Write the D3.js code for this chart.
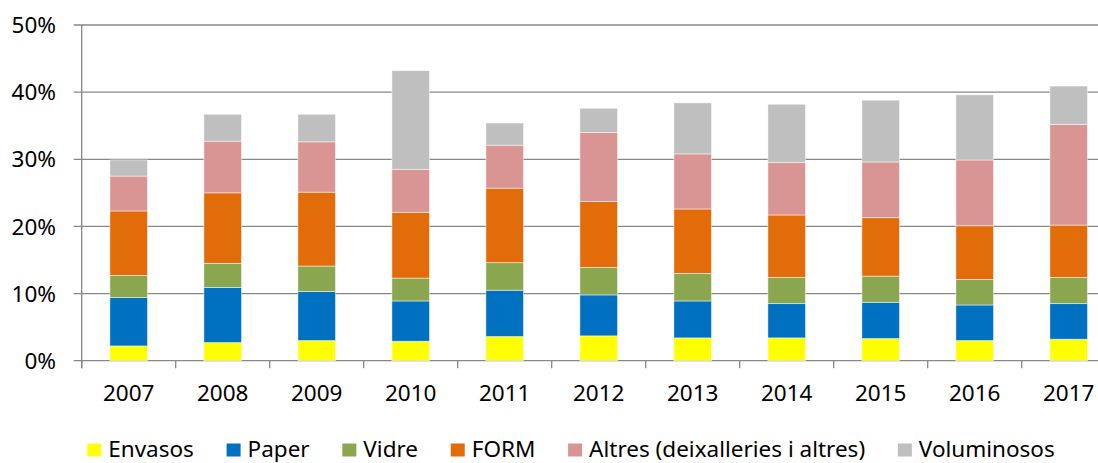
<!DOCTYPE html>
<html>
<head>
<meta charset="utf-8">
<script src="https://cdn.jsdelivr.net/npm/d3@7"></script>
<style>
  body { margin: 0; background: #fff; }
  svg { display: block; font-family: "Noto Sans", "Open Sans", sans-serif; }
</style>
</head>
<body>
<div id="chart"></div>
<script>
// values (% of total)
var years = ["2007","2008","2009","2010","2011","2012","2013","2014","2015","2016","2017"];
var envasos     = [2.2, 2.7, 3.0, 2.9, 3.6, 3.7, 3.4, 3.4, 3.3, 3.0, 3.2];
var paper       = [7.2, 8.2, 7.3, 6.0, 6.9, 6.1, 5.5, 5.1, 5.4, 5.3, 5.3];
var vidre       = [3.3, 3.6, 3.8, 3.4, 4.1, 4.1, 4.1, 3.9, 3.9, 3.8, 3.9];
var form        = [9.6, 10.5, 11.0, 9.8, 11.1, 9.8, 9.6, 9.3, 8.7, 8.0, 7.8];
var altres      = [5.2, 7.7, 7.5, 6.4, 6.4, 10.3, 8.2, 7.8, 8.3, 9.8, 15.0];
var voluminosos = [2.4, 4.0, 4.1, 14.7, 3.3, 3.6, 7.6, 8.7, 9.2, 9.7, 5.7];
var seriesNames = ["Envasos", "Paper", "Vidre", "FORM", "Altres (deixalleries i altres)", "Voluminosos"];
var colors = ["#ffff00", "#0070c0", "#8aa64f", "#e36c0a", "#d99594", "#bfbfbf"];
var yTicks = [0, 10, 20, 30, 40, 50];

var W = 1098, H = 463;
var plotLeft = 81.7, plotTop = 25, plotBottom = 360.7;
var step = 94;
var fontSize = 22.5;

var rows = years.map(function(y, i) {
    return {year: y, s0: envasos[i], s1: paper[i], s2: vidre[i], s3: form[i], s4: altres[i], s5: voluminosos[i]};
});
var keys = ["s0","s1","s2","s3","s4","s5"];

var x = d3.scaleBand()
    .domain(years)
    .range([plotLeft, plotLeft + step * years.length])
    .paddingInner(0.6)
    .paddingOuter(0.3);
var y = d3.scaleLinear()
    .domain([0, 50])
    .range([plotBottom, plotTop]);

var svg = d3.select("#chart").append("svg")
    .attr("width", W)
    .attr("height", H);

// gridlines
svg.append("g").selectAll("line")
    .data(yTicks)
    .enter().append("line")
    .attr("x1", plotLeft - 8)
    .attr("x2", W)
    .attr("y1", function(d) { return y(d); })
    .attr("y2", function(d) { return y(d); })
    .attr("stroke", "#888")
    .attr("stroke-width", 1.3);

// y axis line
svg.append("line")
    .attr("x1", plotLeft).attr("x2", plotLeft)
    .attr("y1", y(50)).attr("y2", plotBottom + 7.5)
    .attr("stroke", "#888")
    .attr("stroke-width", 1.3);

// category ticks at band edges
var edges = years.map(function(d) { return x(d) + x.bandwidth() / 2 - x.step() / 2; });
edges.push(edges[edges.length - 1] + x.step());
svg.append("g").selectAll("line")
    .data(edges)
    .enter().append("line")
    .attr("x1", function(d) { return d; })
    .attr("x2", function(d) { return d; })
    .attr("y1", plotBottom)
    .attr("y2", plotBottom + 7.5)
    .attr("stroke", "#888")
    .attr("stroke-width", 1.3);

// y labels
svg.append("g").selectAll("text")
    .data(yTicks)
    .enter().append("text")
    .attr("x", 56)
    .attr("y", function(d) { return y(d); })
    .attr("dy", "0.36em")
    .attr("text-anchor", "end")
    .attr("font-size", fontSize)
    .attr("fill", "#000")
    .text(function(d) { return d + "%"; });

// year labels
svg.append("g").selectAll("text")
    .data(years)
    .enter().append("text")
    .attr("x", function(d) { return x(d) + x.bandwidth() / 2; })
    .attr("y", 401)
    .attr("text-anchor", "middle")
    .attr("font-size", fontSize)
    .attr("fill", "#000")
    .text(function(d) { return d; });

// stacked bars
var stacked = d3.stack().keys(keys)(rows);
svg.append("g").selectAll("g")
    .data(stacked)
    .enter().append("g")
    .attr("fill", function(d, i) { return colors[i]; })
    .selectAll("rect")
    .data(function(d) { return d; })
    .enter().append("rect")
    .attr("x", function(d) { return x(d.data.year); })
    .attr("width", x.bandwidth())
    .attr("y", function(d) { return y(d[1]); })
    .attr("height", function(d) { return y(d[0]) - y(d[1]); })
    .attr("stroke", "#fff")
    .attr("stroke-opacity", 0.6)
    .attr("stroke-width", 0.8);

// legend, laid out from measured text widths and centred
var legend = svg.append("g");
var items = legend.selectAll("g")
    .data(seriesNames)
    .enter().append("g");
items.append("rect")
    .attr("y", 443.5)
    .attr("width", 14)
    .attr("height", 13)
    .attr("fill", function(d, i) { return colors[i]; });
items.append("text")
    .attr("x", 21)
    .attr("y", 456.5)
    .attr("font-size", fontSize)
    .attr("fill", "#000")
    .text(function(d) { return d; });

var pos = 0;
items.each(function() {
    var w = d3.select(this).select("text").node().getComputedTextLength();
    d3.select(this).attr("data-x", pos);
    pos += 21 + w + 32.7;
});
var total = pos - 32.7;
var start = 571 - total / 2;
items.attr("transform", function() {
    return "translate(" + (start + (+d3.select(this).attr("data-x"))) + ",0)";
});
</script>
</body>
</html>
